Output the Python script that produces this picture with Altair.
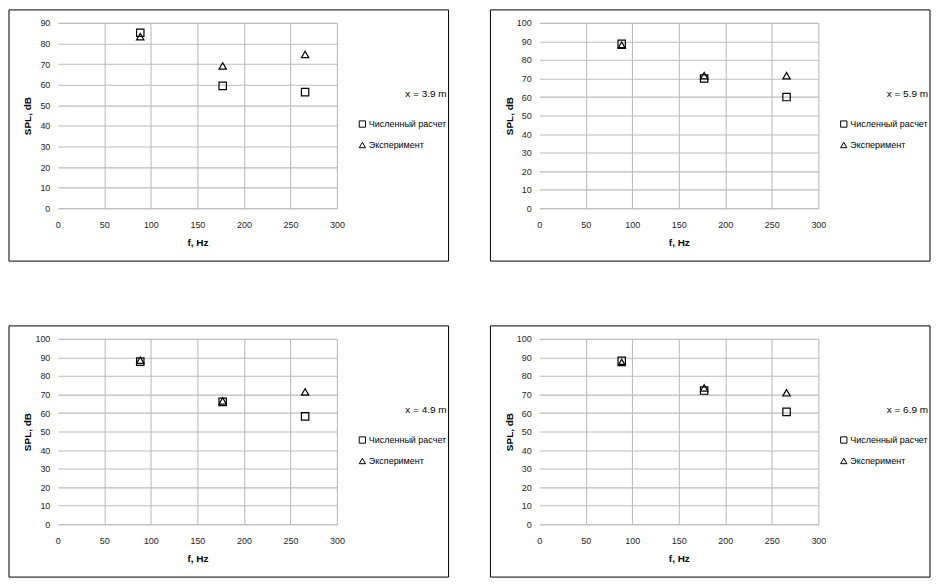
import altair as alt
import pandas as pd

# ---- data ----
FREQ = [88.6, 177.2, 265.8]
SERIES = ["Численный расчет", "Эксперимент"]

LABEL_39 = "x = 3.9 m"
NUM_39 = [85.2, 59.4, 56.4]
EXP_39 = [83.3, 69.1, 74.7]

LABEL_59 = "x = 5.9 m"
NUM_59 = [88.7, 70.0, 60.0]
EXP_59 = [88.0, 71.5, 71.5]

LABEL_49 = "x = 4.9 m"
NUM_49 = [87.7, 66.0, 58.2]
EXP_49 = [88.5, 66.5, 71.4]

LABEL_69 = "x = 6.9 m"
NUM_69 = [88.2, 72.1, 60.6]
EXP_69 = [87.3, 73.5, 70.9]

X_TICKS = [0, 50, 100, 150, 200, 250, 300]

FONT = "Liberation Sans, Arial, sans-serif"
GRID = "#bcbcbc"
BOX_W, BOX_H = 441, 252
L, T, W, H = 49, 13, 280, 186


def panel(label, num, exp, ymax):
    df = pd.DataFrame({
        "f": FREQ + FREQ,
        "SPL": num + exp,
        "series": [SERIES[0]] * len(num) + [SERIES[1]] * len(exp),
    })
    x_axis = alt.Axis(
        title="f, Hz", values=X_TICKS, grid=True, gridColor=GRID, gridWidth=1.1,
        gridOpacity={"condition": {"test": "datum.value === 0", "value": 0}, "value": 1},
        domainColor=GRID, domainWidth=1.1, ticks=False, tickSize=0, labelPadding=12,
        labelFlush=False, labelFont=FONT, labelFontSize=9, labelColor="#262626",
        titleFont=FONT, titleFontSize=10, titleFontWeight="bold", titleColor="black",
        titlePadding=8,
    )
    y_axis = alt.Axis(
        title="SPL, dB", values=list(range(0, ymax + 1, 10)), grid=True, gridColor=GRID,
        gridWidth=1.1, domain=False, ticks=False, tickSize=0, labelPadding=8,
        labelFlush=False, labelFont=FONT, labelFontSize=9, labelColor="#262626",
        titleFont=FONT, titleFontSize=10, titleFontWeight="bold", titleColor="black",
        titleX=-30, titleBaseline="middle",
    )
    legend = alt.Legend(
        title=label, orient="none", legendX=W + 21, legendY=66, direction="vertical",
        titleAnchor="end", titleFont=FONT, titleFontSize=10, titleFontWeight="normal",
        titleColor="black", titlePadding=21,
        labelFont=FONT, labelFontSize=9, labelColor="black", labelOffset=2,
        symbolSize=40, symbolStrokeColor="black", symbolStrokeWidth=1, rowPadding=10,
    )
    points = alt.Chart(df).mark_point(
        filled=False, color="black", size=55, strokeWidth=1.2, opacity=1
    ).encode(
        x=alt.X("f:Q", scale=alt.Scale(domain=[0, 300], nice=False), axis=x_axis),
        y=alt.Y("SPL:Q", scale=alt.Scale(domain=[0, ymax], nice=False), axis=y_axis),
        shape=alt.Shape("series:N", scale=alt.Scale(domain=SERIES, range=["square", "triangle-up"]),
                        legend=legend),
    )
    box = alt.Chart(alt.Data(values=[{"k": 0}])).mark_rect(
        fillOpacity=0, stroke="black", strokeWidth=1
    ).encode(
        x=alt.value(-L), x2=alt.value(BOX_W - L),
        y=alt.value(-T), y2=alt.value(BOX_H - T),
    )
    return alt.layer(box, points).properties(width=W, height=H)


p1 = panel(LABEL_39, NUM_39, EXP_39, 90)
p2 = panel(LABEL_59, NUM_59, EXP_59, 100)
p3 = panel(LABEL_49, NUM_49, EXP_49, 100)
p4 = panel(LABEL_69, NUM_69, EXP_69, 100)

row1 = alt.hconcat(p1, p2, spacing=40).resolve_scale(shape="independent").resolve_legend(shape="independent")
row2 = alt.hconcat(p3, p4, spacing=40).resolve_scale(shape="independent").resolve_legend(shape="independent")

chart = alt.vconcat(row1, row2, spacing=63).resolve_scale(
    shape="independent"
).resolve_legend(shape="independent").properties(
    padding=0, background="white"
).configure(font=FONT).configure_view(stroke=None)

chart.save("out.html", embed_options={"renderer": "svg", "actions": False})
